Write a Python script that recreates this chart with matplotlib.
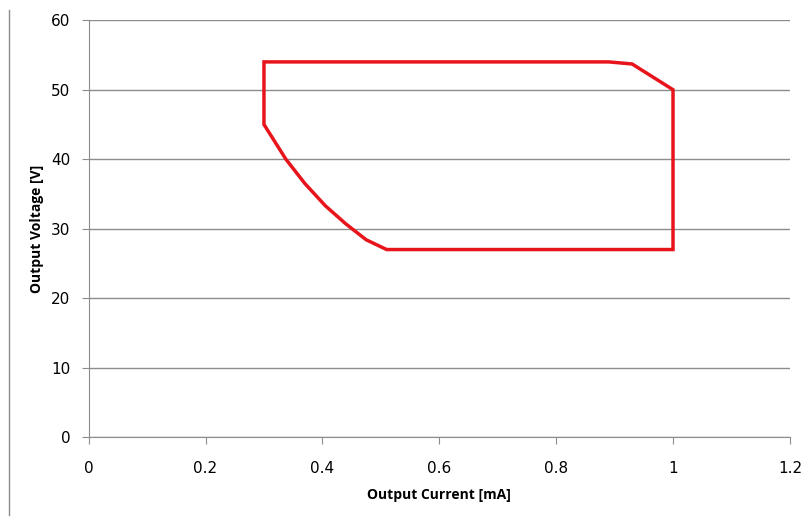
import matplotlib.pyplot as plt
from matplotlib.lines import Line2D

# Operating area boundary (closed polygon)
current_ma = [0.3, 0.89, 0.93, 1.0, 1.0, 0.51, 0.475, 0.44, 0.405, 0.37, 0.3375, 0.3]
voltage_v = [54, 54, 53.7, 50, 27, 27, 28.4, 30.7, 33.3, 36.5, 40, 45]

x_ticks = [0, 0.2, 0.4, 0.6, 0.8, 1, 1.2]
x_tick_labels = ['0', '0.2', '0.4', '0.6', '0.8', '1', '1.2']
y_ticks = [0, 10, 20, 30, 40, 50, 60]

plt.rcParams['font.family'] = ['Liberation Sans Narrow', 'DejaVu Sans']
grey = '#8c8c8c'

fig = plt.figure(figsize=(8.06, 5.18), dpi=100)
ax = fig.add_axes([0.110, 0.156, 0.870, 0.805])

ax.fill(current_ma, voltage_v, fill=False, edgecolor='#e8141b', linewidth=2.5,
        joinstyle='miter')

ax.set_xlim(0, 1.2)
ax.set_ylim(0, 60)
ax.set_xticks(x_ticks)
ax.set_xticklabels(x_tick_labels)
ax.set_yticks(y_ticks)

ax.yaxis.grid(True, color=grey, linewidth=1)
ax.set_axisbelow(True)

for side in ['top', 'right']:
    ax.spines[side].set_visible(False)
for side in ['left', 'bottom']:
    ax.spines[side].set_color(grey)

ax.tick_params(axis='both', direction='out', length=5, color=grey,
               labelsize=11, labelcolor='black', pad=8)
ax.tick_params(axis='x', pad=12)

ax.set_xlabel('Output Current [mA]', fontsize=10, fontweight='bold',
              family=['Open Sans', 'DejaVu Sans'], labelpad=9)
ax.set_ylabel('Output Voltage [V]', fontsize=10, fontweight='bold',
              family=['Open Sans', 'DejaVu Sans'], labelpad=5)

# left frame border of the original chart area
fig.add_artist(Line2D([9 / 806, 9 / 806], [3 / 518, 508 / 518],
                      transform=fig.transFigure, color=grey, linewidth=1))

fig.savefig('out.png', dpi=100)
